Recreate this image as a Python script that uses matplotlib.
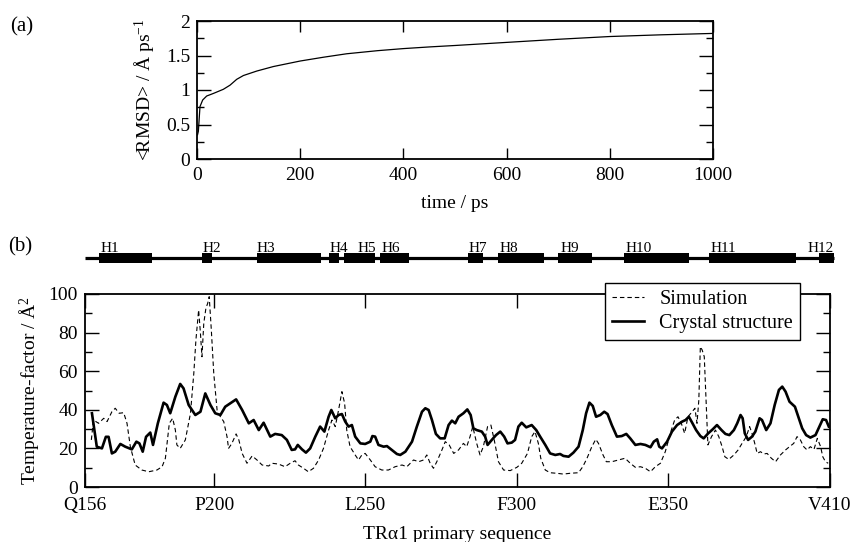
import matplotlib
matplotlib.use('Agg')
import matplotlib.pyplot as plt
from matplotlib.ticker import MultipleLocator, FixedLocator

# (a) running average RMSD
time_ps = [1, 2.6, 5.8, 11, 18.8, 31.7, 51, 64, 77, 90, 116, 148, 200, 245, 290,
           350, 400, 452, 500, 600, 700, 800, 900, 1000]
rmsd = [0.35, 0.40, 0.76, 0.855, 0.913, 0.95, 1.01, 1.07, 1.155, 1.21, 1.275, 1.34, 1.42,
        1.475, 1.525, 1.57, 1.60, 1.625, 1.645, 1.69, 1.735, 1.775, 1.80, 1.82]

# (b) secondary structure of TRa1
helix_names = ['H1', 'H2', 'H3', 'H4', 'H5', 'H6', 'H7', 'H8', 'H9', 'H10', 'H11', 'H12']
helix_start = [161.9, 195.9, 214.1, 237.9, 242.9, 254.9, 284.0, 293.9, 313.8, 335.6, 363.8, 399.9]
helix_end = [179.4, 199.2, 235.3, 241.3, 253.2, 264.5, 288.9, 309.2, 325.1, 357.2, 392.3, 404.9]
helix_label_pos = [162.2, 196.2, 214.1, 238.2, 247.5, 255.4, 284.0, 294.3, 314.5, 336.2, 364.1, 396.2]

# (b) temperature factors
sim_res = [159.3, 160.0, 161.7, 163.4, 164.5, 166.1, 167.2, 168.5, 170.0, 171.1, 172.2, 173.8,
           176.0, 178.3, 181.0, 182.7, 183.8, 185.1, 186.2, 187.1, 187.6, 188.7, 190.4, 192.1,
           193.2, 193.9, 194.8, 195.4, 195.9, 196.5, 197.2, 197.8, 198.3, 199.0, 199.8, 200.9,
           202.0, 203.1, 204.2, 204.7, 205.8, 207.2, 208.1, 209.2, 210.8, 212.5, 214.1, 215.8,
           218.0, 219.0, 221.2, 223.4, 225.1, 226.7, 227.8, 229.5, 231.1, 232.8, 234.5, 236.1,
           237.8, 238.9, 240.0, 241.1, 242.2, 243.1, 243.8, 244.9, 246.6, 247.7, 248.8, 249.9,
           251.6, 253.2, 255.4, 257.6, 259.8, 262.1, 263.7, 265.9, 267.6, 269.2, 270.3, 271.4,
           272.5, 273.6, 275.3, 276.4, 277.7, 279.2, 280.8, 282.4, 283.5, 284.6, 285.5, 286.8,
           287.9, 289.0, 290.4, 291.5, 292.6, 294.0, 295.7, 297.9, 300.1, 301.7, 303.6, 305.0,
           306.1, 307.2, 308.0, 309.5, 311.1, 313.3, 315.5, 317.7, 320.5, 321.9, 323.3, 324.9,
           326.2, 327.1, 328.6, 329.7, 331.5, 333.7, 335.9, 337.6, 339.3, 341.0, 342.6, 344.3,
           345.9, 347.6, 349.2, 350.3, 351.2, 352.3, 353.4, 354.5, 355.6, 356.7, 358.1, 359.0,
           359.7, 360.3, 360.8, 361.4, 362.1, 362.7, 363.3, 364.5, 365.8, 366.9, 368.0, 368.9,
           370.2, 371.9, 373.3, 374.6, 376.0, 377.1, 377.9, 378.8, 379.6, 380.7, 381.8, 382.9,
           384.3, 385.7, 387.3, 389.0, 390.3, 391.7, 392.8, 393.9, 395.0, 396.1, 397.2, 398.4,
           399.5, 400.6, 401.3, 402.2, 403.1]
sim_bfac = [24.4, 34.7, 33.0, 35.6, 33.9, 39.0, 40.8, 38.2, 38.5, 33.0, 20.9, 11.4,
            8.8, 7.9, 8.8, 10.5, 14.9, 33.0, 35.6, 29.5, 21.8, 20.0, 24.4, 38.2,
            58.9, 76.2, 91.7, 79.6, 67.5, 84.8, 92.6, 95.2, 98.6, 81.3, 58.9, 39.9,
            36.4, 33.9, 26.0, 20.0, 22.6, 27.5, 24.4, 17.4, 12.3, 16.1, 14.0, 11.4,
            10.9, 12.3, 11.9, 10.5, 12.3, 13.6, 11.4, 9.7, 7.9, 9.7, 14.0, 20.0,
            29.5, 34.7, 31.3, 39.9, 49.4, 43.4, 29.5, 20.9, 16.6, 14.0, 16.6, 17.4,
            14.0, 10.5, 8.8, 8.8, 10.5, 11.4, 10.5, 14.0, 13.1, 14.0, 16.6, 12.3,
            9.7, 13.1, 19.2, 23.5, 21.8, 17.4, 19.2, 22.6, 20.9, 26.1, 31.3, 22.6,
            16.6, 20.9, 31.3, 32.1, 24.4, 13.1, 8.8, 8.5, 10.2, 12.3, 17.4, 26.1,
            28.7, 22.6, 14.9, 8.8, 7.4, 7.1, 6.7, 7.1, 7.4, 10.5, 14.9, 20.9,
            24.7, 22.6, 16.6, 13.1, 13.1, 14.0, 14.9, 12.3, 10.2, 10.5, 9.7, 7.9,
            10.5, 12.3, 18.3, 24.4, 29.5, 34.7, 36.4, 33.0, 27.8, 36.4, 39.0, 40.8,
            33.0, 45.1, 72.7, 71.0, 67.5, 45.1, 21.8, 26.1, 29.5, 26.1, 20.9, 15.7,
            14.3, 16.6, 19.2, 22.6, 26.1, 31.3, 27.8, 22.6, 17.4, 18.3, 17.1, 17.4,
            14.9, 13.1, 16.6, 19.2, 20.9, 22.6, 26.1, 24.4, 20.9, 19.2, 20.9, 19.5,
            25.2, 20.9, 15.7, 13.1, 12.3]

crys_res = [159.5, 161.1, 162.8, 164.1, 165.0, 166.1, 167.2, 168.9, 170.5, 172.7, 174.2, 175.2,
            176.3, 177.4, 178.8, 179.7, 181.3, 183.2, 184.3, 185.4, 187.1, 188.7, 189.8, 191.5,
            193.7, 195.4, 197.0, 198.7, 200.3, 202.0, 203.6, 205.3, 207.2, 209.2, 211.4, 213.0,
            214.7, 216.3, 218.5, 220.1, 222.3, 224.0, 225.6, 226.7, 227.6, 229.0, 230.3, 231.7,
            233.4, 235.0, 236.4, 237.8, 238.7, 240.0, 241.1, 242.2, 243.3, 244.4, 245.5, 246.6,
            248.3, 249.9, 251.6, 252.3, 253.2, 254.3, 256.0, 257.1, 258.7, 260.4, 261.5, 263.2,
            265.4, 267.0, 268.7, 269.8, 270.9, 272.0, 273.3, 274.7, 276.2, 277.5, 278.6, 279.7,
            280.8, 282.4, 283.7, 284.8, 285.7, 286.8, 288.5, 289.6, 290.4, 291.8, 293.2, 294.6,
            295.9, 297.0, 298.4, 299.5, 300.6, 301.7, 303.2, 305.0, 306.5, 307.8, 309.5, 311.1,
            312.8, 314.4, 315.5, 317.2, 318.8, 320.5, 321.9, 323.0, 324.1, 325.2, 326.3, 327.7,
            329.0, 330.1, 331.5, 333.2, 334.8, 336.3, 337.6, 339.3, 341.0, 342.6, 344.3, 345.4,
            346.5, 347.2, 348.1, 349.8, 351.4, 353.1, 354.8, 355.9, 357.0, 358.1, 359.4, 360.8,
            361.9, 363.4, 364.9, 366.3, 367.8, 369.1, 370.4, 371.9, 373.0, 374.1, 374.8, 375.5,
            376.6, 377.9, 379.0, 380.4, 381.2, 382.6, 384.0, 385.4, 386.8, 387.9, 389.0, 390.3,
            392.1, 393.4, 394.5, 395.8, 397.2, 398.9, 400.2, 401.3, 402.4, 403.3]
crys_bfac = [38.2, 20.9, 20.0, 26.0, 26.0, 17.4, 18.3, 22.3, 20.9, 19.5, 23.5, 22.6,
             18.3, 26.0, 28.2, 21.8, 33.0, 43.7, 42.5, 38.2, 46.8, 53.4, 51.1, 42.5,
             37.3, 39.0, 48.5, 42.5, 38.2, 37.3, 41.6, 43.4, 45.4, 39.9, 33.0, 34.7,
             29.5, 33.3, 26.1, 27.5, 26.9, 24.4, 19.2, 19.5, 21.8, 19.5, 17.8, 20.0,
             26.1, 31.3, 28.7, 36.4, 39.9, 35.6, 37.3, 37.8, 33.9, 31.3, 32.1, 26.1,
             22.6, 22.3, 23.5, 26.4, 26.1, 21.8, 20.9, 21.2, 19.2, 17.1, 16.6, 18.3,
             23.5, 31.3, 39.0, 40.8, 39.9, 34.7, 27.5, 25.2, 25.2, 32.1, 34.4, 33.0,
             36.4, 38.2, 40.2, 37.3, 30.4, 29.5, 28.7, 26.1, 21.8, 24.4, 26.9, 28.7,
             26.1, 22.6, 23.0, 24.4, 31.3, 33.3, 30.9, 32.1, 29.5, 26.1, 21.8, 17.4,
             16.6, 17.1, 16.1, 15.7, 17.8, 20.9, 29.5, 38.2, 43.7, 42.0, 36.4, 37.3,
             39.0, 37.8, 32.1, 26.1, 26.4, 27.5, 25.2, 21.8, 22.3, 21.8, 20.6, 23.5,
             24.7, 20.9, 20.0, 23.5, 28.7, 32.1, 33.9, 34.7, 36.4, 33.3, 29.5, 26.4,
             25.2, 27.8, 29.9, 32.1, 29.5, 27.5, 26.9, 29.5, 33.0, 37.3, 35.6, 27.8,
             24.4, 26.1, 28.7, 35.6, 34.7, 29.5, 33.0, 42.5, 50.3, 52.0, 49.4, 44.2,
             41.6, 35.6, 30.4, 26.9, 25.6, 26.9, 31.3, 35.1, 34.7, 31.3]

res_ticks = [157.2, 200, 250, 300, 350, 403.7]
res_tick_labels = ['Q156', 'P200', 'L250', 'F300', 'E350', 'V410']


def style_axis(ax, xmajor_len, ymajor_len, xpad=5):
    ax.tick_params(which='both', direction='in', top=True, right=True, width=1.0,
                   labelsize=14, colors='black')
    ax.tick_params(axis='x', which='major', length=xmajor_len, pad=xpad)
    ax.tick_params(axis='y', which='major', length=ymajor_len, pad=5)
    ax.tick_params(axis='y', which='minor', length=5)
    for sp in ax.spines.values():
        sp.set_linewidth(1.3)


def make_figure():
    plt.rcParams['font.family'] = ['Liberation Serif', 'DejaVu Serif']
    plt.rcParams['mathtext.fontset'] = 'custom'
    plt.rcParams['mathtext.rm'] = 'Liberation Serif'
    plt.rcParams['mathtext.it'] = 'Liberation Serif:italic'

    W, H = 856, 542
    fig = plt.figure(figsize=(W / 100, H / 100), dpi=100)

    def box(x0, y0, x1, y1):
        # pixel box (top-left origin) -> figure fraction
        return [x0 / W, 1 - y1 / H, (x1 - x0) / W, (y1 - y0) / H]

    # ---- (a) ----
    ax_a = fig.add_axes(box(197, 21, 713, 159))
    ax_a.plot(time_ps, rmsd, color='black', lw=0.9)
    ax_a.set_xlim(0, 1000)
    ax_a.set_ylim(0, 2)
    ax_a.xaxis.set_major_locator(MultipleLocator(200))
    ax_a.yaxis.set_major_locator(MultipleLocator(0.5))
    ax_a.yaxis.set_minor_locator(MultipleLocator(0.25))
    ax_a.yaxis.set_major_formatter(plt.FuncFormatter(lambda v, p: f'{v:g}'))
    style_axis(ax_a, 8, 10, xpad=6)
    ax_a.set_xlabel('time / ps', fontsize=14, labelpad=8)
    ax_a.set_ylabel(r'<RMSD> / Å ps$^{-1}$', fontsize=14, labelpad=6)
    fig.text(10 / W, 1 - 27 / H, '(a)', fontsize=15, va='center', ha='left')

    # ---- helix map ----
    ax_h = fig.add_axes(box(85, 243, 830, 273))
    ax_h.set_xlim(res_ticks[0], res_ticks[-1])
    ax_h.set_ylim(-1.5, 1.5)
    ax_h.axis('off')
    ax_h.plot([res_ticks[0], helix_end[-1]], [0, 0], color='black', lw=2.3,
              solid_capstyle='butt', clip_on=False)
    ax_h.broken_barh([(s, e - s) for s, e in zip(helix_start, helix_end)], (-0.5, 1.0),
                     facecolors='black', clip_on=False)
    for name, xl in zip(helix_names, helix_label_pos):
        ax_h.text(xl, 0.62, name, fontsize=11, ha='left', va='baseline')
    fig.text(8 / W, 1 - 247 / H, '(b)', fontsize=15, va='center', ha='left')

    # ---- (b) ----
    ax_b = fig.add_axes(box(85, 294, 830, 487))
    ax_b.plot(sim_res, sim_bfac, color='black', lw=0.8, linestyle=(0, (4, 2.7)),
              label='Simulation')
    ax_b.plot(crys_res, crys_bfac, color='black', lw=1.9, label='Crystal structure')
    ax_b.set_xlim(res_ticks[0], res_ticks[-1])
    ax_b.set_ylim(0, 100)
    ax_b.xaxis.set_major_locator(FixedLocator(res_ticks))
    ax_b.set_xticklabels(res_tick_labels)
    ax_b.yaxis.set_major_locator(MultipleLocator(20))
    ax_b.yaxis.set_minor_locator(MultipleLocator(10))
    style_axis(ax_b, 10, 10, xpad=7)
    ax_b.set_xlabel('TR\u03b11 primary sequence', fontsize=14, labelpad=9)
    ax_b.set_ylabel(r'Temperature-factor / Å$^2$', fontsize=14, labelpad=5)

    leg = ax_b.legend(loc='upper left', bbox_to_anchor=(605 / W, 1 - 283 / H),
                      bbox_transform=fig.transFigure, fontsize=14.5, frameon=True,
                      fancybox=False, edgecolor='black', framealpha=1,
                      borderpad=0.35, labelspacing=0.25, handlelength=1.6,
                      handletextpad=0.75, borderaxespad=0)
    leg.get_frame().set_linewidth(1.0)

    fig.savefig('out.png', dpi=100)


if __name__ == '__main__':
    make_figure()
